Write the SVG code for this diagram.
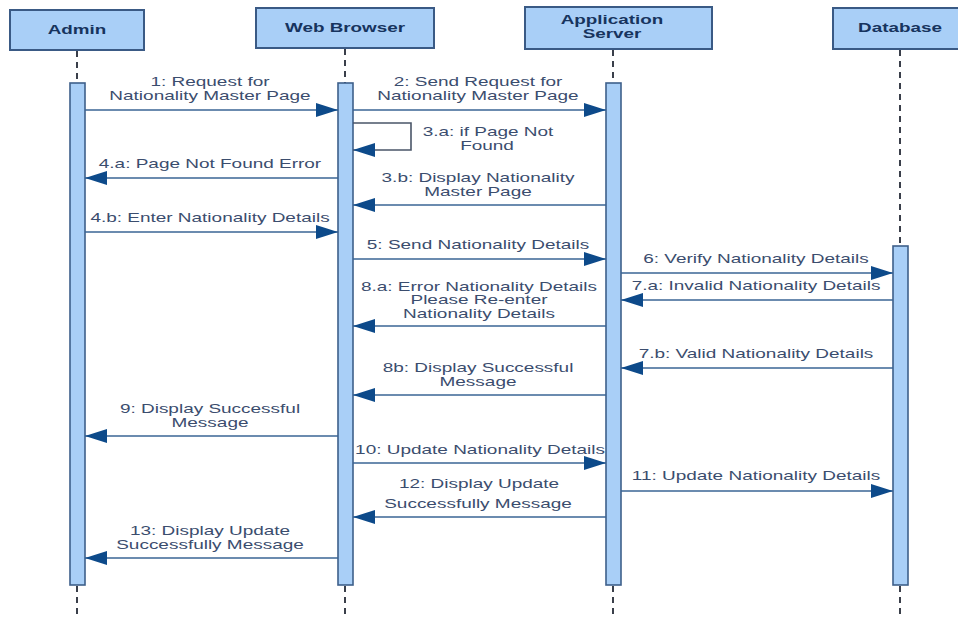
<svg xmlns="http://www.w3.org/2000/svg" width="958" height="619" viewBox="0 0 958 619">
<style>
.box{fill:#a9cff7;stroke:#3a5a85;stroke-width:2}
.act{fill:#a9cff7;stroke:#3e5f8a;stroke-width:1.6}
.life{stroke:#3a3f4a;stroke-width:2;stroke-dasharray:6 5;fill:none}
.hdr{font-family:"Liberation Sans",Arial,sans-serif;font-weight:bold;font-size:13px;fill:#17345e;text-anchor:middle}
.lbl{font-family:"Liberation Sans",Arial,sans-serif;font-size:13px;fill:#3b4d6e;text-anchor:middle}
.msg{stroke:#3a6494;stroke-width:1.6;fill:none;marker-end:url(#ah)}
</style>
<defs>
<marker id="ah" markerUnits="userSpaceOnUse" markerWidth="24" markerHeight="16" refX="22" refY="7" orient="auto">
<path d="M0,0 L22,7 L0,14 Z" fill="#0d4a8a"/>
</marker>
</defs>
<rect width="958" height="619" fill="#ffffff"/>

<g id="admin">
<rect class="box" x="10" y="10" width="134" height="40"/>
<text class="hdr" transform="translate(77 34) scale(1.45 1)">Admin</text>
<line class="life" x1="77" y1="51" x2="77" y2="83"/>
<rect class="act" x="70" y="83" width="15" height="502"/>
<line class="life" x1="77" y1="586" x2="77" y2="619"/>
</g>

<g id="webbrowser">
<rect class="box" x="256" y="8" width="178" height="40"/>
<text class="hdr" transform="translate(345 32) scale(1.45 1)">Web Browser</text>
<line class="life" x1="345" y1="49" x2="345" y2="83"/>
<rect class="act" x="338" y="83" width="15" height="502"/>
<line class="life" x1="345" y1="586" x2="345" y2="619"/>
</g>

<g id="appserver">
<rect class="box" x="525" y="7" width="187" height="42"/>
<text class="hdr" transform="translate(612 24) scale(1.45 1)">Application</text>
<text class="hdr" transform="translate(612 38) scale(1.45 1)">Server</text>
<line class="life" x1="613" y1="50" x2="613" y2="83"/>
<rect class="act" x="606" y="83" width="15" height="502"/>
<line class="life" x1="613" y1="586" x2="613" y2="619"/>
</g>

<g id="database">
<rect class="box" x="833" y="8" width="127" height="41"/>
<text class="hdr" transform="translate(900 32) scale(1.45 1)">Database</text>
<line class="life" x1="900" y1="50" x2="900" y2="246"/>
<rect class="act" x="893" y="246" width="15" height="339"/>
<line class="life" x1="900" y1="586" x2="900" y2="619"/>
</g>

<g id="connectors">
<line class="msg" x1="85" y1="110" x2="338" y2="110"/>
<line class="msg" x1="353" y1="110" x2="606" y2="110"/>
<path class="msg" style="stroke:#4a5568" d="M353,123 H411 V150 H353"/>
<line class="msg" x1="338" y1="178" x2="85" y2="178"/>
<line class="msg" x1="606" y1="205" x2="353" y2="205"/>
<line class="msg" x1="85" y1="232" x2="338" y2="232"/>
<line class="msg" x1="353" y1="259" x2="606" y2="259"/>
<line class="msg" x1="621" y1="273" x2="893" y2="273"/>
<line class="msg" x1="893" y1="300" x2="621" y2="300"/>
<line class="msg" x1="606" y1="326" x2="353" y2="326"/>
<line class="msg" x1="893" y1="368" x2="621" y2="368"/>
<line class="msg" x1="606" y1="395" x2="353" y2="395"/>
<line class="msg" x1="338" y1="436" x2="85" y2="436"/>
<line class="msg" x1="353" y1="463" x2="606" y2="463"/>
<line class="msg" x1="621" y1="491" x2="893" y2="491"/>
<line class="msg" x1="606" y1="517" x2="353" y2="517"/>
<line class="msg" x1="338" y1="558" x2="85" y2="558"/>
</g>

<g id="labels">
<text class="lbl" transform="translate(210 86) scale(1.46 1)">1: Request for</text>
<text class="lbl" transform="translate(210 100) scale(1.46 1)">Nationality Master Page</text>
<text class="lbl" transform="translate(478 86) scale(1.46 1)">2: Send Request for</text>
<text class="lbl" transform="translate(478 100) scale(1.46 1)">Nationality Master Page</text>
<text class="lbl" transform="translate(488 136) scale(1.46 1)">3.a: if Page Not</text>
<text class="lbl" transform="translate(487 150) scale(1.46 1)">Found</text>
<text class="lbl" transform="translate(210 168) scale(1.46 1)">4.a: Page Not Found Error</text>
<text class="lbl" transform="translate(478 182) scale(1.46 1)">3.b: Display Nationality</text>
<text class="lbl" transform="translate(478 196) scale(1.46 1)">Master Page</text>
<text class="lbl" transform="translate(210 222) scale(1.46 1)">4.b: Enter Nationality Details</text>
<text class="lbl" transform="translate(478 249) scale(1.46 1)">5: Send Nationality Details</text>
<text class="lbl" transform="translate(756 263) scale(1.46 1)">6: Verify Nationality Details</text>
<text class="lbl" transform="translate(756 290) scale(1.46 1)">7.a: Invalid Nationality Details</text>
<text class="lbl" transform="translate(479 291) scale(1.46 1)">8.a: Error Nationality Details</text>
<text class="lbl" transform="translate(479 304) scale(1.46 1)">Please Re-enter</text>
<text class="lbl" transform="translate(479 318) scale(1.46 1)">Nationality Details</text>
<text class="lbl" transform="translate(756 358) scale(1.46 1)">7.b: Valid Nationality Details</text>
<text class="lbl" transform="translate(478 372) scale(1.46 1)">8b: Display Successful</text>
<text class="lbl" transform="translate(478 386) scale(1.46 1)">Message</text>
<text class="lbl" transform="translate(210 413) scale(1.46 1)">9: Display Successful</text>
<text class="lbl" transform="translate(210 427) scale(1.46 1)">Message</text>
<text class="lbl" transform="translate(480 454) scale(1.46 1)">10: Update Nationality Details</text>
<text class="lbl" transform="translate(756 480) scale(1.46 1)">11: Update Nationality Details</text>
<text class="lbl" transform="translate(479 488) scale(1.46 1)">12: Display Update</text>
<text class="lbl" transform="translate(478 508) scale(1.46 1)">Successfully Message</text>
<text class="lbl" transform="translate(210 535) scale(1.46 1)">13: Display Update</text>
<text class="lbl" transform="translate(210 549) scale(1.46 1)">Successfully Message</text>
</g>
</svg>
